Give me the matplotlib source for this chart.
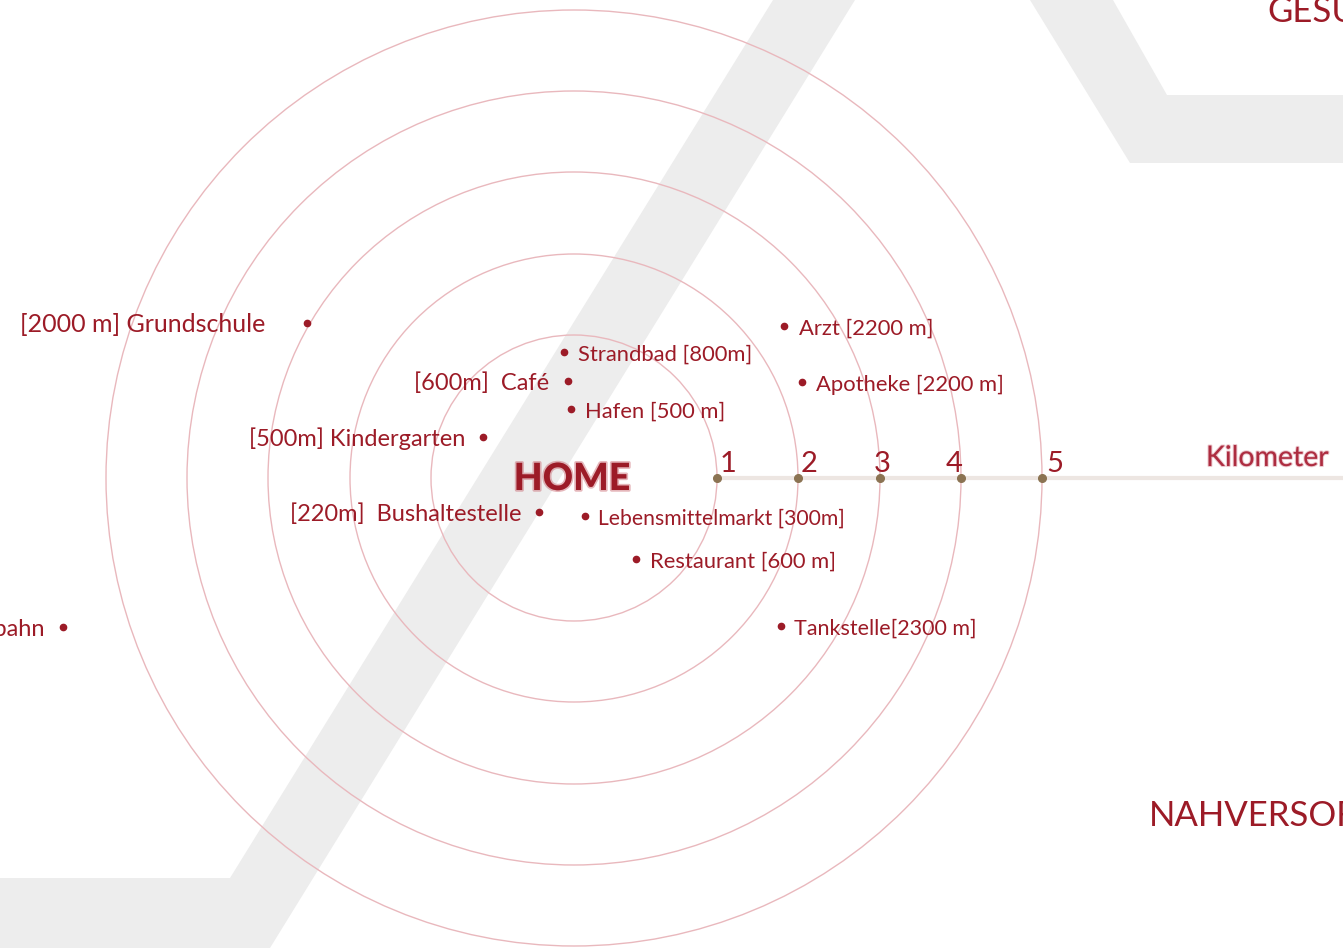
import matplotlib
matplotlib.use("Agg")
import matplotlib.pyplot as plt
from matplotlib.patches import Circle, Polygon
from matplotlib import font_manager
import matplotlib.patheffects as pe

# ---------------- data ----------------
km_labels = ["1", "2", "3", "4", "5"]
ring_radius = [143, 224, 306, 387, 468]          # ring radius (px) per km label

place_labels = [
    "[2000 m] Grundschule",
    "Arzt [2200 m]",
    "Strandbad [800m]",
    "[600m]  Café",
    "Apotheke [2200 m]",
    "Hafen [500 m]",
    "[500m] Kindergarten",
    "[220m]  Bushaltestelle",
    "Lebensmittelmarkt [300m]",
    "Restaurant [600 m]",
    "Tankstelle[2300 m]",
    "[4000 m] Autobahn",
]
place_x = [307, 784, 564, 568, 802, 571, 483, 539, 585, 636, 781, 63]
place_y = [323, 326, 352, 381, 382, 409, 437, 512, 516, 559, 626, 627]
place_side = ["L", "R", "R", "L", "R", "R", "L", "L", "R", "R", "R", "L"]
label_gap = [42, 15, 14, 19, 14, 14, 18, 18, 13, 14, 13, 19]
label_size = [18, 15.8, 15.8, 17, 15.8, 15.8, 17, 17, 15.2, 15.8, 15.5, 17]

section_titles = ["GESUNDHEIT", "NAHVERSORGUNG"]
center_label = "HOME"
axis_label = "Kilometer"

# ---------------- style ----------------
W, H = 1343, 952
CX, CY = 574, 478
RED = "#9c1b27"
RING = "#e9b8bd"
GRAY = "#ededed"
TICK = "#8b7352"
AXIS = "#ede6e2"

names = {f.name for f in font_manager.fontManager.ttflist}
WIDE = "Lato" if "Lato" in names else "DejaVu Sans"

fig = plt.figure(figsize=(W / 100, H / 100), dpi=100)
ax = fig.add_axes([0, 0, 1, 1])
ax.set_xlim(0, W)
ax.set_ylim(H, 0)
ax.set_aspect("equal")
ax.axis("off")

# background grey bands
ax.add_patch(Polygon([(773, 0), (855, 0), (270, 948), (0, 948), (0, 878), (230, 878)],
                     closed=True, facecolor=GRAY, edgecolor="none", zorder=0))
ax.add_patch(Polygon([(1030, 0), (1113, 0), (1167, 95), (W, 95), (W, 163), (1130, 163)],
                     closed=True, facecolor=GRAY, edgecolor="none", zorder=0))

# rings
for r in ring_radius:
    ax.add_patch(Circle((CX, CY), r, fill=False, edgecolor=RING, linewidth=1.0, zorder=1))

# kilometre axis
ax.plot([CX + ring_radius[0], W], [CY, CY], color=AXIS, linewidth=3, zorder=2,
        solid_capstyle="butt")
km_offsets = [11, 11, 2, -7, 13]
for lab, r, off in zip(km_labels, ring_radius, km_offsets):
    ax.plot(CX + r, CY, "o", color=TICK, markersize=5.5, zorder=3)
    ax.text(CX + r + off, 472, lab, color=RED, fontsize=21, family=WIDE,
            ha="center", va="baseline", zorder=4)
ax.text(1206, 466, axis_label, color="#ad2c40", fontsize=20.5, family=WIDE,
        ha="left", va="baseline", zorder=4,
        path_effects=[pe.withStroke(linewidth=1.5, foreground="#d9909c", alpha=0.5)])

# HOME
ax.text(CX - 2, 490, center_label, color=RED, fontsize=27, family=WIDE,
        fontweight="black", ha="center", va="baseline", zorder=4,
        path_effects=[pe.withStroke(linewidth=2.5, foreground="#c7606a", alpha=0.45)])

# places
for lab, x, y, side, gap, fs in zip(place_labels, place_x, place_y, place_side,
                                    label_gap, label_size):
    ax.plot(x, y, "o", color=RED, markersize=4.5, zorder=5)
    if side == "L":
        ax.text(x - gap, y + 9, lab, color=RED, fontsize=fs, family=WIDE,
                ha="right", va="baseline", zorder=5)
    else:
        ax.text(x + gap, y + 9, lab, color=RED, fontsize=fs, family=WIDE,
                ha="left", va="baseline", zorder=5)

# section titles (cut by the frame, as in the original layout)
ax.text(1267, 22, section_titles[0], color=RED, fontsize=25, family=WIDE,
        ha="left", va="baseline", zorder=5)
ax.text(1149, 826, section_titles[1], color=RED, fontsize=25, family=WIDE,
        ha="left", va="baseline", zorder=5)

fig.savefig("out.png", dpi=100, facecolor="white")
